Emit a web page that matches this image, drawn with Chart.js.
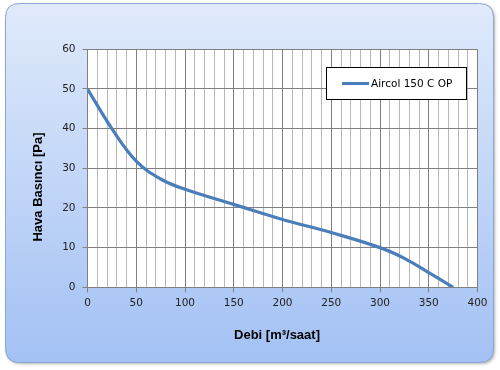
<!DOCTYPE html>
<html>
<head>
<meta charset="utf-8">
<script src="https://cdn.jsdelivr.net/npm/chart.js@4/dist/chart.umd.min.js"></script>
<style>
html, body { margin: 0; padding: 0; background: #fff; }
</style>
</head>
<body>
<canvas id="grafik" width="500" height="370"></canvas>
<script>
// veriler
const debi = [0, 25, 50, 75, 100, 150, 200, 250, 300, 325, 350, 375];
const basinc = [50, 40, 31.8, 27.3, 24.7, 20.9, 17.1, 13.8, 10, 7.3, 3.7, 0];
const seriAdi = "Aircol 150 C OP";
const xEksen = { min: 0, max: 400, etiketAdim: 50, izgaraAdim: 10 };
const yEksen = { min: 0, max: 60, adim: 10 };
const xBaslik = "Debi [m\u00b3/saat]";
const yBaslik = "Hava Bas\u0131nc\u0131 [Pa]";

const noktalar = debi.map((d, i) => ({ x: d, y: basinc[i] }));

function roundRect(ctx, x, y, w, h, r) {
  ctx.beginPath();
  ctx.moveTo(x + r, y);
  ctx.lineTo(x + w - r, y);
  ctx.quadraticCurveTo(x + w, y, x + w, y + r);
  ctx.lineTo(x + w, y + h - r);
  ctx.quadraticCurveTo(x + w, y + h, x + w - r, y + h);
  ctx.lineTo(x + r, y + h);
  ctx.quadraticCurveTo(x, y + h, x, y + h - r);
  ctx.lineTo(x, y + r);
  ctx.quadraticCurveTo(x, y, x + r, y);
  ctx.closePath();
}

const arkaPlan = {
  id: "arkaPlan",
  beforeDraw(chart) {
    const ctx = chart.ctx;
    const a = chart.chartArea;
    ctx.save();
    ctx.fillStyle = "#fff";
    ctx.fillRect(0, 0, chart.width, chart.height);
    // golge
    ctx.shadowColor = "rgba(0,0,0,0.3)";
    ctx.shadowBlur = 3;
    ctx.shadowOffsetX = 1.5;
    ctx.shadowOffsetY = 1.5;
    const g = ctx.createLinearGradient(0, 4, 0, 362);
    g.addColorStop(0, "#e0eafb");
    g.addColorStop(1, "#a3c1f4");
    roundRect(ctx, 5.5, 3.5, 488, 359, 14);
    ctx.fillStyle = g;
    ctx.fill();
    ctx.shadowColor = "transparent";
    ctx.strokeStyle = "#8aa6d4";
    ctx.lineWidth = 1;
    ctx.stroke();
    ctx.fillStyle = "#fff";
    ctx.fillRect(a.left, a.top, a.right - a.left, a.bottom - a.top);
    ctx.restore();
  },
  afterDraw(chart) {
    const ctx = chart.ctx;
    const ds = chart.data.datasets[0];
    ctx.save();
    // lejant
    ctx.fillStyle = "#fff";
    ctx.fillRect(326.5, 67.5, 140, 32);
    ctx.strokeStyle = "#000";
    ctx.lineWidth = 1;
    ctx.strokeRect(326.5, 67.5, 140, 32);
    ctx.strokeStyle = ds.borderColor;
    ctx.lineWidth = 3;
    ctx.beginPath();
    ctx.moveTo(342, 83.5);
    ctx.lineTo(369, 83.5);
    ctx.stroke();
    ctx.fillStyle = "#000";
    ctx.font = "10.5px 'DejaVu Sans'";
    ctx.textBaseline = "middle";
    ctx.textAlign = "left";
    ctx.fillText(ds.label, 371, 84);
    // eksen basliklari
    ctx.font = "bold 13px 'Liberation Sans'";
    ctx.textAlign = "center";
    ctx.fillText(xBaslik, 277, 335);
    ctx.translate(38, 187);
    ctx.rotate(-Math.PI / 2);
    ctx.fillText(yBaslik, 0, 0);
    ctx.restore();
  }
};

const koyu = "#808080";
const acik = "#b8b8b8";

const grafik = new Chart(document.getElementById("grafik").getContext("2d"), {
  type: "line",
  data: {
    datasets: [
      {
        label: seriAdi,
        data: noktalar,
        borderColor: "#4a7ebb",
        borderWidth: 3.2,
        pointRadius: 0,
        fill: false,
        tension: 0.4,
      },
    ],
  },
  options: {
    responsive: false,
    animation: false,
    devicePixelRatio: 1,
    layout: { padding: { left: 0, right: 22.5, top: 49.3, bottom: 0 } },
    plugins: {
      legend: { display: false },
      tooltip: { enabled: false },
    },
    scales: {
      x: {
        type: "linear",
        min: xEksen.min,
        max: xEksen.max,
        afterFit(scale) { scale.height = 82.7; },
        border: { color: koyu },
        grid: {
          color: (c) => (c.tick && c.tick.value % xEksen.etiketAdim === 0 ? koyu : acik),
          tickColor: (c) => (c.tick && c.tick.value % xEksen.etiketAdim === 0 ? koyu : "rgba(0,0,0,0)"),
          tickLength: 5,
        },
        ticks: {
          stepSize: xEksen.izgaraAdim,
          autoSkip: false,
          maxRotation: 0,
          padding: 5,
          color: "#222",
          font: { family: "'DejaVu Sans'", size: 10.5 },
          callback: (v) => (v % xEksen.etiketAdim === 0 ? v : ""),
        },
      },
      y: {
        min: yEksen.min,
        max: yEksen.max,
        afterFit(scale) { scale.width = 87.5; },
        border: { color: koyu },
        grid: { color: koyu, tickColor: koyu, tickLength: 5 },
        ticks: {
          stepSize: yEksen.adim,
          padding: 7,
          color: "#222",
          font: { family: "'DejaVu Sans'", size: 10.5 },
        },
      },
    },
  },
  plugins: [arkaPlan],
});
</script>
</body>
</html>
